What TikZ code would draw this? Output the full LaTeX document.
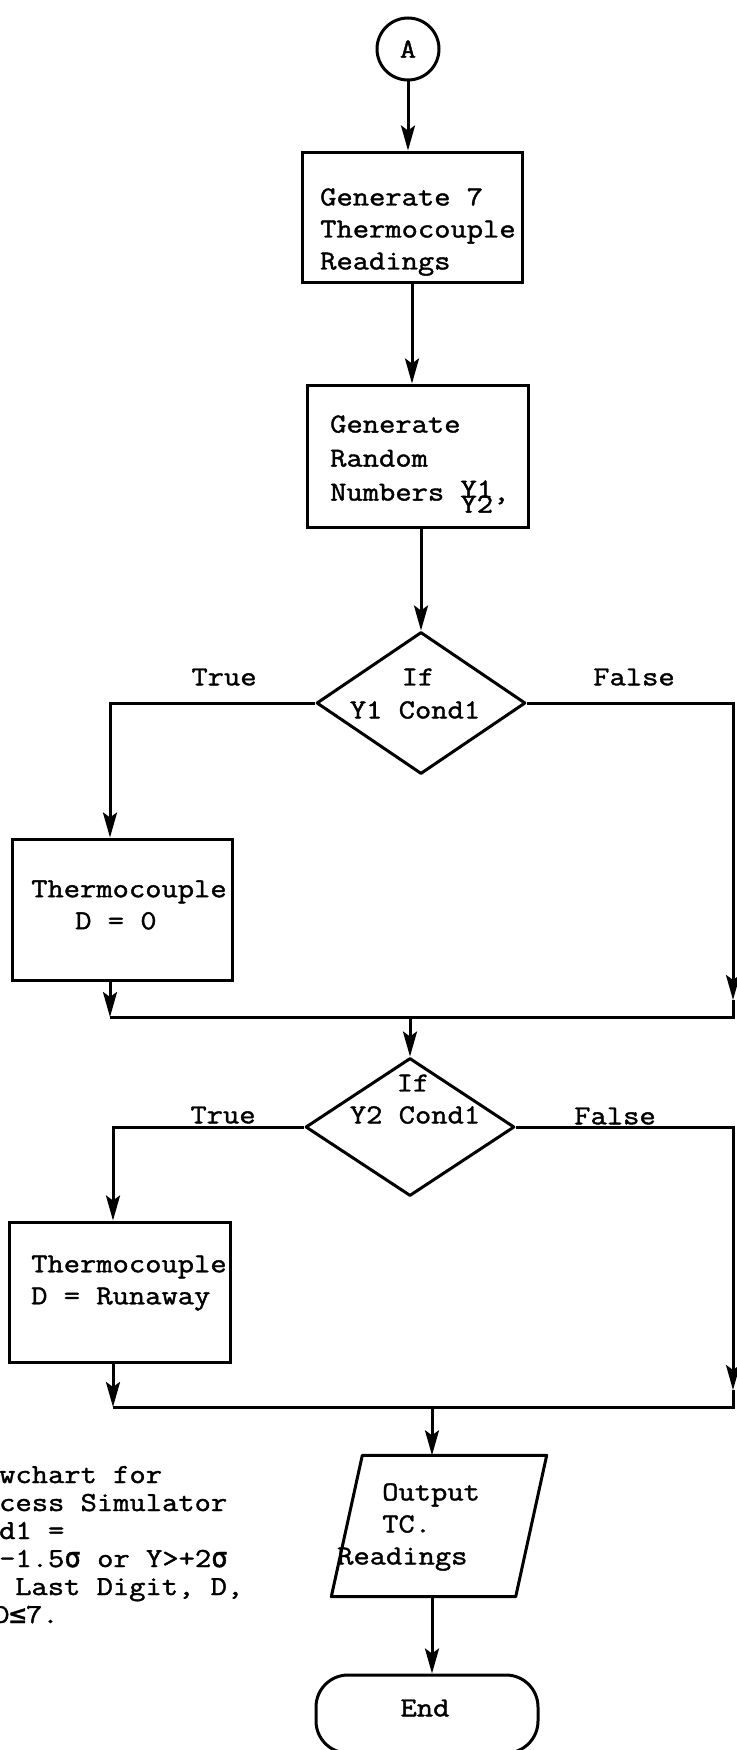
\documentclass[tikz,border=0pt]{standalone}
\usepackage{fontspec}
\setmonofont{Latin Modern Mono}[FakeStretch=1.15,FakeBold=1.5]
\newfontfamily\symf{DejaVu Sans Mono}[FakeBold=1.5]
\usetikzlibrary{shapes.geometric,arrows.meta}
\newcommand{\tw}{\ttfamily\fontsize{27.5}{32}\selectfont}
\newcommand{\sg}{{\symf σ}}
\begin{document}
\begin{tikzpicture}[x=1pt,y=-1pt,
  line/.style={line width=3pt},
  arr/.style={line width=3pt,-{Stealth[length=25pt,width=14pt,inset=5pt]}},
  rect/.style={draw,line width=3pt,inner sep=0pt},
  circ/.style={draw,circle,line width=3pt,minimum size=62pt,inner sep=0pt,font=\tw},
  dia/.style={draw,diamond,line width=3pt,inner sep=0pt,line join=round},
  txt/.style={font=\tw,align=left,inner sep=0pt},
  lbl/.style={font=\tw,inner sep=0pt},
  nl/.style={font=\tw,inner sep=0pt,anchor=base west}
]
\useasboundingbox (0,0) rectangle (736,1750);

% top
\node[circ] (A) at (408,49) {A};
\node[rect,minimum width=220pt,minimum height=130pt] (b1) at (412,217) {};
\node[txt,anchor=west] (b1t) at (320,232) {Generate 7\\Thermocouple\\Readings};
\node[rect,minimum width=221pt,minimum height=142pt] (b2) at (417.5,456) {};
\node[txt,anchor=west] (b2t) at (330,464) {Generate\\[2pt]Random\\[2pt]Numbers \rlap{\raisebox{-12pt}{Y2}}\raisebox{3pt}{Y1},};

\draw[arr] (A.south) -- (A.south |- b1.north);
\draw[arr] (b1.south) -- (b1.south |- b2.north);

% first decision
\node[dia,minimum width=209pt,minimum height=142pt] (d1) at (421,703) {};
\node[lbl] (d1if) at (418,677) {If};
\node[lbl] (d1c) at (415,710) {Y1 Cond1};
\node[lbl] (tr1) at (224,677) {True};
\node[lbl] (fa1l) at (634,677) {False};
\draw[arr] (d1.north |- b2.south) -- (d1.north);

\node[rect,minimum width=220pt,minimum height=141pt] (b3) at (122,909.5) {};
\node[txt,anchor=west] (b3t) at (31,905) {Thermocouple\\\hspace*{44pt}D = 0};

\coordinate (t1) at (110,703);
\coordinate (f1) at (733,703);
\coordinate (fa1) at (733,1000);
\coordinate (m1L) at (110,1017);
\coordinate (m1R) at (733,1017);

\draw[arr] (d1.west) -- (t1) -- (t1 |- b3.north);
\draw[arr] (d1.east) -- (f1) -- (fa1);
\draw[line] (fa1) -- (m1R) -- (m1L);
\draw[arr] (t1 |- b3.south) -- (m1L);

% second decision
\node[dia,minimum width=209pt,minimum height=138pt] (d2) at (410,1127) {};
\coordinate (m1) at (d2.north |- m1L);
\draw[arr] (m1) -- (d2.north);
\node[lbl] (d2if) at (413,1083) {If};
\node[lbl] (d2c) at (415,1115) {Y2 Cond1};
\node[lbl] (tr2) at (223,1115) {True};
\node[lbl] (fa2l) at (615,1116) {False};

\node[rect,minimum width=221pt,minimum height=140pt] (b4) at (119.5,1292) {};
\node[txt,anchor=west] (b4t) at (31,1283) {Thermocouple\\D = Runaway};

\coordinate (t2) at (113,1127);
\coordinate (f2) at (733,1127);
\coordinate (fa2) at (733,1390);
\coordinate (m2L) at (113,1407);
\coordinate (m2R) at (733,1407);
\coordinate (m2) at (432,1407);

\draw[arr] (d2.west) -- (t2) -- (t2 |- b4.north);
\draw[arr] (d2.east) -- (f2) -- (fa2);
\draw[line] (fa2) -- (m2R) -- (m2L);
\draw[arr] (t2 |- b4.south) -- (m2L);

% output
\node[minimum width=215pt,minimum height=141pt,inner sep=0pt] (out) at (439,1526) {};
\draw[line,line join=round] ([xshift=31pt]out.north west) -- (out.north east) -- ([xshift=-31pt]out.south east) -- (out.south west) -- cycle;
\node[txt,anchor=west] (outt) at (337,1527) {\hspace*{45pt}Output\\\hspace*{45pt}TC.\\Readings};
\draw[arr] (m2) -- (m2 |- out.north);

% end
\node[rect,rounded corners=32pt,minimum width=222pt,minimum height=78pt] (fin) at (427,1714) {};
\node[lbl] (fint) at (425,1708) {End};
\draw[arr] (m2 |- out.south) -- (m2 |- fin.north);

% note (one node per typed line)
\node[nl] (n1) at (-1,1483) {wchart for};
\node[nl] (n2) at (-1,1511) {cess Simulator};
\node[nl] (n3) at (-1,1539) {d1 =};
\node[nl] (n4) at (-1,1567) {-1.5\sg{} or Y>+2\sg};
\node[nl] (n5) at (15,1595) {Last Digit, D,};
\node[nl] (n6) at (-7,1623) {D{\symf ≤}7.};
\end{tikzpicture}
\end{document}
